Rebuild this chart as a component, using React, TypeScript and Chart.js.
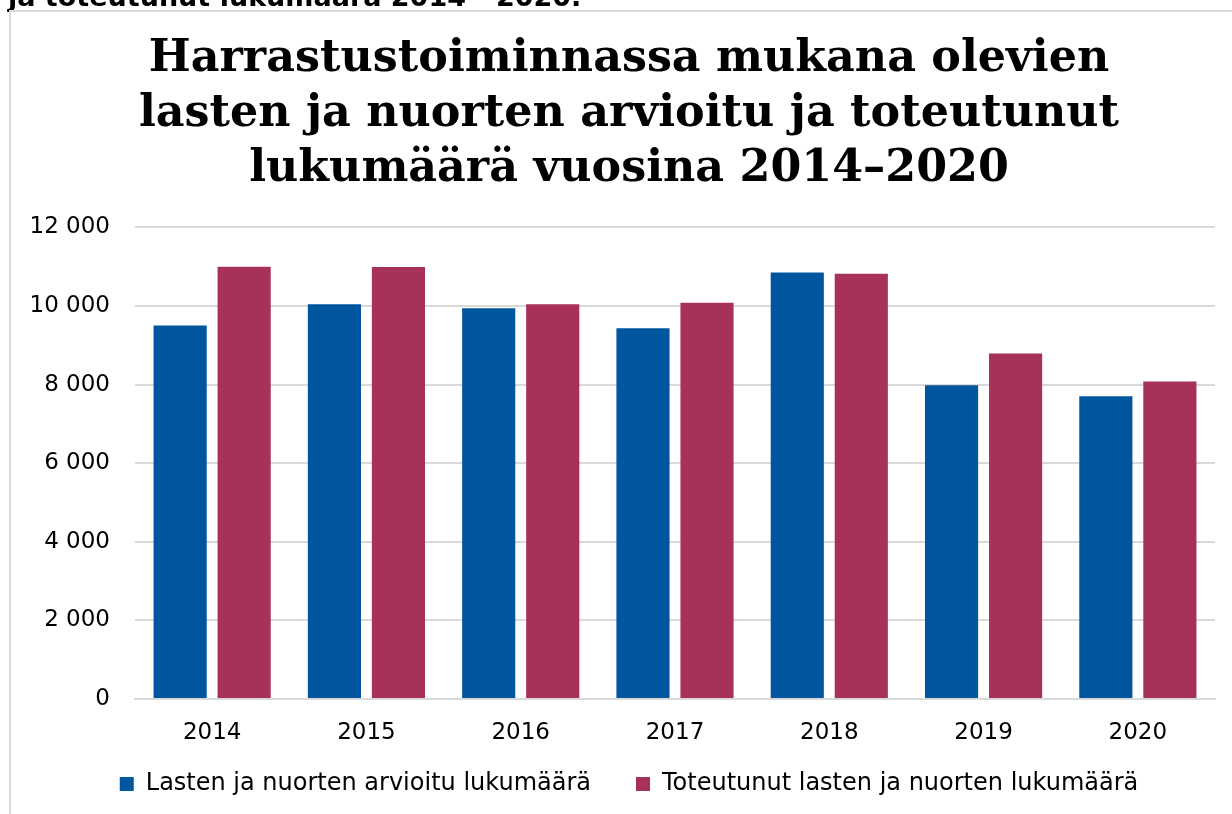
import React, { useEffect, useRef } from "react";
import { Chart, registerables } from "chart.js";

Chart.register(...registerables);

const years = ["2014", "2015", "2016", "2017", "2018", "2019", "2020"];
const estimated = [9500, 10040, 9940, 9430, 10850, 7980, 7700];
const actual = [11000, 10990, 10040, 10080, 10820, 8790, 8080];
const seriesNames = [
  "Lasten ja nuorten arvioitu lukumäärä",
  "Toteutunut lasten ja nuorten lukumäärä",
];
const titleLines = [
  "Harrastustoiminnassa mukana olevien",
  "lasten ja nuorten arvioitu ja toteutunut",
  "lukumäärä vuosina 2014–2020",
];
const headingText = "ja toteutunut lukumäärä 2014 - 2020.";

const fmt = (v: number) =>
  String(v).replace(/\B(?=(\d{3})+(?!\d))/g, " ");

const noLabelClip = (scale: any) => {
  scale._computeLabelArea = () => undefined;
};

export default function App() {
  const ref = useRef<HTMLCanvasElement | null>(null);

  useEffect(() => {
    if (!ref.current) return;
    const chart = new Chart(ref.current, {
      type: "bar",
      data: {
        labels: years,
        datasets: [
          {
            label: seriesNames[0],
            data: estimated,
            backgroundColor: "#00559F",
            categoryPercentage: 0.83,
            barPercentage: 0.83,
          },
          {
            label: seriesNames[1],
            data: actual,
            backgroundColor: "#A83158",
            categoryPercentage: 0.83,
            barPercentage: 0.83,
          },
        ],
      },
      options: {
        animation: false,
        responsive: true,
        maintainAspectRatio: false,
        layout: { padding: { left: 32, right: 17, top: 0, bottom: 8 } },
        plugins: {
          title: {
            display: true,
            text: titleLines,
            color: "#000",
            font: { family: "'DejaVu Serif', serif", size: 44.4, weight: "bold", lineHeight: 1.23 },
            padding: { top: 20.5, bottom: 31 },
          },
          legend: {
            position: "bottom",
            labels: {
              color: "#000",
              font: { family: "'DejaVu Sans', sans-serif", size: 24 },
              boxWidth: 14,
              boxHeight: 14,
              padding: 45,
            },
          },
          tooltip: { enabled: false },
        },
        scales: {
          x: {
            grid: { display: false, drawTicks: false },
            border: { display: true, color: "#d9d9d9", width: 2 },
            ticks: {
              color: "#000",
              padding: 20,
              font: { family: "'DejaVu Sans', sans-serif", size: 23 },
            },
            afterFit: (scale: any) => {
              scale.height = 28;
              noLabelClip(scale);
            },
          },
          y: {
            min: 0,
            max: 12000,
            grid: { color: "#d9d9d9", lineWidth: 2, drawTicks: false },
            border: { display: false },
            ticks: {
              stepSize: 2000,
              color: "#000",
              padding: 25,
              font: { family: "'DejaVu Sans', sans-serif", size: 23 },
              callback: (v: any) => fmt(Number(v)),
            },
            afterFit: (scale: any) => {
              scale.width = 92;
              noLabelClip(scale);
            },
          },
        },
      },
    });
    return () => chart.destroy();
  }, []);

  return (
    <>
      <div
        style={{
          position: "fixed",
          left: 8,
          top: -18,
          fontFamily: "'DejaVu Sans', sans-serif",
          fontWeight: "bold",
          fontSize: 27,
          lineHeight: "30px",
          color: "#000",
          whiteSpace: "nowrap",
        }}
      >
        {headingText}
      </div>
      <div
        style={{
          position: "fixed",
          left: 9,
          top: 10,
          width: 1221,
          height: 802,
          borderLeft: "2px solid #d9d9d9",
          borderTop: "2px solid #d9d9d9",
          background: "#fff",
        }}
      >
        <canvas ref={ref} />
      </div>
    </>
  );
}
